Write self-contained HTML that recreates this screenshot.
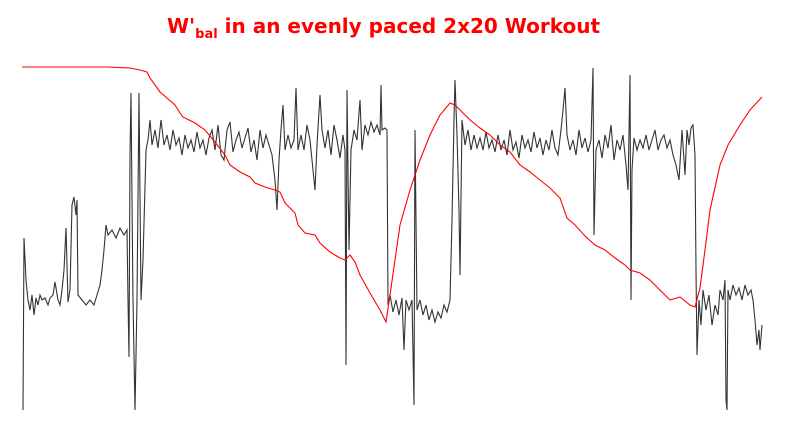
<!DOCTYPE html>
<html><head><meta charset="utf-8"><style>
body{margin:0;background:#fff;width:801px;height:441px;overflow:hidden}
#title{position:absolute;left:-17px;width:801px;top:14px;text-align:center;font:bold 20px "DejaVu Sans","Liberation Sans",sans-serif;color:#f00}
sub{font-size:13px}
</style></head><body>
<div id="title">W'<sub>bal</sub> in an evenly paced 2x20 Workout</div>
<svg id="chart" width="801" height="441" style="position:absolute;left:0;top:0"></svg>
<script>
const tPower=[1,2,4,6,8,10,12,14,16,18,
20,23,26,28,31,33,36,38,40,42,
44,46,48,50,52,54,55,56,60,64,
68,72,75,78,80,82,84,86,90,94,
98,102,105,106,107,108,109,110,111,113,
115,117,119,121,124,126,128,130,133,136,
139,142,145,148,151,154,157,160,163,166,
169,172,175,178,181,184,187,190,193,196,
199,202,205,208,211,214,217,220,223,226,
229,232,235,238,241,244,247,250,253,255,
257,259,261,263,266,269,272,274,276,279,
282,285,288,291,293,295,298,300,303,306,
309,312,315,318,321,323,324,325,327,329,
332,335,338,340,343,346,349,352,355,358,
359,360,363,365,366,368,371,374,377,380,
382,384,387,390,392,393,395,398,401,404,
407,410,413,416,419,422,425,428,430,432,
433,435,437,438,440,443,446,449,452,455,
458,461,464,467,470,473,476,479,482,485,
488,491,494,497,500,503,506,509,512,515,
518,521,524,527,530,533,536,539,541,543,
545,548,551,554,557,560,563,566,569,571,
572,574,577,580,583,586,589,592,595,598,
601,604,606,608,609,610,612,615,618,621,
624,627,630,633,636,639,642,645,648,651,
654,657,660,663,665,667,669,671,673,674,
675,677,679,681,684,687,690,693,696,698,
701,703,704,705,706,708,711,714,717,720,
723,726,729,731,733,735,737,738,740];
const pPower=[0,172,130,110,100,115,95,112,105,115,
110,112,105,112,115,128,110,105,120,140,
182,108,120,205,213,195,210,115,110,105,
110,105,115,125,140,160,185,175,180,172,
182,175,180,110,53,255,317,210,110,0,
110,317,110,150,260,270,290,265,280,262,
290,265,275,260,280,265,272,255,275,262,
270,258,278,262,270,255,272,280,260,285,
255,250,280,288,258,270,278,262,272,282,
258,270,250,280,262,275,265,255,230,200,
250,280,305,260,275,262,270,322,260,275,
260,285,270,240,220,265,315,280,262,280,
255,285,270,252,275,260,45,320,160,260,
280,270,310,260,285,275,288,278,285,275,
325,280,282,280,105,115,98,110,95,112,
60,110,100,110,5,280,100,110,95,105,
90,100,88,98,92,105,98,110,190,290,
330,275,200,135,290,265,280,260,275,262,
272,260,278,262,270,258,275,260,270,255,
280,260,268,252,275,262,270,258,278,262,
272,255,270,260,280,262,255,280,300,322,
275,260,270,255,280,262,272,258,270,342,
175,260,270,252,275,262,285,250,270,260,
275,245,220,335,110,240,272,260,270,262,
275,260,270,280,260,270,275,262,270,255,
245,230,280,235,280,265,282,285,255,140,
55,110,85,120,100,115,85,105,95,120,
110,130,10,0,120,110,125,115,122,110,
125,115,120,110,90,65,80,60,85];
const tWbal=[0,86,108,118,125,128,138,153,158,161,173,183,193,203,208,218,228,233,243,253,258,263,268,273,276,283,293,298,308,318,323,328,333,338,348,358,364,368,373,378,388,398,408,418,428,433,438,448,458,468,478,488,498,508,518,528,538,545,553,563,573,583,593,603,608,618,628,638,648,658,668,673,678,683,688,698,706,718,728,740];
const wWbal=[343,343,342,340,338,332,318,305,297,293,287,280,268,255,245,238,233,227,223,220,218,207,202,197,185,177,175,167,158,152,150,155,148,135,117,100,88,115,150,185,220,250,275,295,307,305,300,290,282,275,265,258,245,238,230,222,212,192,185,174,165,160,152,145,140,137,130,120,110,113,105,103,122,160,200,245,265,285,300,313];
const X=t=>22+t, Yp=v=>410-v, Yw=v=>410-v;
const svg=document.getElementById('chart');const NS='http://www.w3.org/2000/svg';
function line(ts,vs,f,col,name){const p=document.createElementNS(NS,'path');
p.setAttribute('d',ts.map((t,i)=>(i?'L':'M')+X(t)+','+f(vs[i])).join(''));
p.setAttribute('fill','none');p.setAttribute('stroke',col);p.setAttribute('stroke-width','1.1');


svg.appendChild(p);}
line(tPower,pPower,Yp,'#333','power-line');
line(tWbal,wWbal,Yw,'#f00','wbal-line');
</script>
</body></html>
